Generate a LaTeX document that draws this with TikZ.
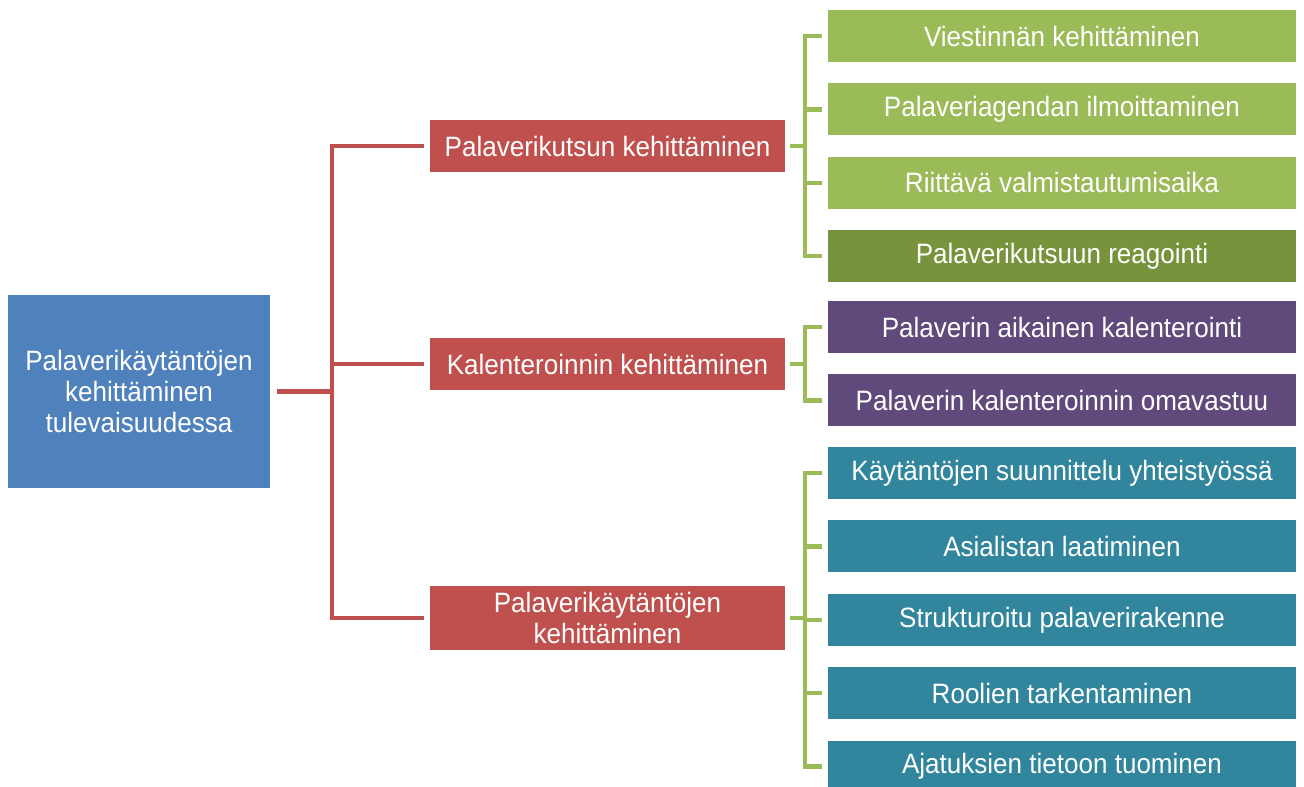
\documentclass[tikz,border=0pt]{standalone}
\usepackage{fontspec}
\setmainfont[FakeStretch=0.93]{Liberation Sans}
\usetikzlibrary{positioning}

\definecolor{rootblue}{HTML}{4F81BD}
\definecolor{midred}{HTML}{C0504D}
\definecolor{lightgreen}{HTML}{9BBB59}
\definecolor{darkgreen}{HTML}{77933C}
\definecolor{plum}{HTML}{604A7B}
\definecolor{teal}{HTML}{31859C}

\begin{document}
\begin{tikzpicture}[x=1pt,y=-1pt,node distance=21pt,
    box/.style={inner sep=0pt,text=white,font=\fontsize{28}{31}\selectfont,align=center},
    root node/.style={box,fill=rootblue,minimum width=262pt,minimum height=193pt},
    mid node/.style={box,fill=midred,minimum width=355pt,minimum height=52pt},
    leaf node/.style={box,minimum width=468pt,minimum height=52pt},
    redline/.style={midred,line width=4.5pt,shorten <=7pt,shorten >=6pt},
    greenline/.style={lightgreen,line width=4.5pt,shorten <=5pt,shorten >=6pt}]
                \useasboundingbox (0,0) rectangle (1304,787);

                \node[root node] (root) at (139,391.5) {Palaverikäytäntöjen\\kehittäminen\\tulevaisuudessa};

                \node[mid node] (kutsu) at (607.5,146) {Palaverikutsun kehittäminen};
                \node[mid node] (kalenteri) at (607.5,364) {Kalenteroinnin kehittäminen};
                \node[mid node,minimum height=64pt] (kaytanto) at (607.5,618) {Palaverikäytäntöjen\\kehittäminen};

                % first group
                \node[leaf node,fill=lightgreen] (viesti) at (1062,36) {Viestinnän kehittäminen};
                \node[leaf node,fill=lightgreen] (agenda) [below=of viesti] {Palaveriagendan ilmoittaminen};
                \node[leaf node,fill=lightgreen] (aika) [below=of agenda] {Riittävä valmistautumisaika};
                \node[leaf node,fill=darkgreen] (reagointi) [below=of aika] {Palaverikutsuun reagointi};

                % second group
                \node[leaf node,fill=plum] (aikainen) at (1062,327) {Palaverin aikainen kalenterointi};
                \node[leaf node,fill=plum] (omavastuu) [below=of aikainen] {Palaverin kalenteroinnin omavastuu};

                % third group
                \node[leaf node,fill=teal] (suunnittelu) at (1062,473) {Käytäntöjen suunnittelu yhteistyössä};
                \node[leaf node,fill=teal] (asialista) [below=of suunnittelu] {Asialistan laatiminen};
                \node[leaf node,fill=teal] (rakenne) [below=of asialista] {Strukturoitu palaverirakenne};
                \node[leaf node,fill=teal] (roolit) [below=of rakenne] {Roolien tarkentaminen};
                \node[leaf node,fill=teal] (ajatukset) [below=of roolit] {Ajatuksien tietoon tuominen};

                \foreach \m in {kutsu,kalenteri,kaytanto}
                    \draw[redline] (root.east) -- ++(62,0) |- (\m.west);

                \foreach \c in {viesti,agenda,aika,reagointi}
                    \draw[greenline] (kutsu.east) -- ++(20,0) |- (\c.west);
                \foreach \c in {aikainen,omavastuu}
                    \draw[greenline] (kalenteri.east) -- ++(20,0) |- (\c.west);
                \foreach \c in {suunnittelu,asialista,rakenne,roolit,ajatukset}
                    \draw[greenline] (kaytanto.east) -- ++(20,0) |- (\c.west);
\end{tikzpicture}
\end{document}
